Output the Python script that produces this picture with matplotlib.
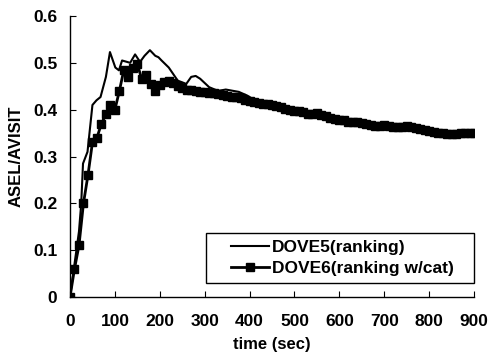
import matplotlib
matplotlib.use("Agg")
import matplotlib.pyplot as plt
import matplotlib.patches as patches
from matplotlib.ticker import FuncFormatter

plt.rcParams["font.family"] = ["Liberation Sans", "DejaVu Sans"]
plt.rcParams["font.weight"] = "bold"

# ── Data ─────────────────────────────────────────────────────────────────────
dove5_t = [0, 10, 20, 25, 29, 35, 39, 50, 59, 68, 80, 89, 101, 109, 116, 127,
           134, 145, 156, 166, 178, 190, 197, 204, 220, 240, 259, 270, 280,
           290, 310, 330, 347, 376, 395, 420, 450, 500, 550, 600, 650, 700,
           750, 800, 850, 900]
dove5_y = [0.0, 0.07, 0.14, 0.20, 0.285, 0.30, 0.31, 0.41, 0.42, 0.427, 0.47,
           0.523, 0.49, 0.484, 0.505, 0.502, 0.50, 0.518, 0.502, 0.515, 0.527,
           0.515, 0.512, 0.505, 0.49, 0.462, 0.455, 0.47, 0.472, 0.466, 0.448,
           0.44, 0.443, 0.438, 0.43, 0.415, 0.413, 0.40, 0.392, 0.38, 0.372,
           0.367, 0.365, 0.355, 0.348, 0.35]

dove6_t = list(range(0, 910, 10))
dove6_y = [0.0, 0.06, 0.11, 0.20, 0.26, 0.33, 0.34, 0.37, 0.39, 0.41,
           0.40, 0.44, 0.485, 0.47, 0.49, 0.497, 0.465, 0.473, 0.455, 0.44,
           0.452, 0.459, 0.462, 0.457, 0.45, 0.447, 0.443, 0.441, 0.44, 0.438,
           0.437, 0.436, 0.435, 0.434, 0.432, 0.43, 0.428, 0.426, 0.424, 0.421,
           0.418, 0.416, 0.414, 0.412, 0.413, 0.411, 0.408, 0.405, 0.402, 0.40,
           0.398, 0.397, 0.394, 0.391, 0.39, 0.392, 0.389, 0.386, 0.383, 0.381,
           0.379, 0.377, 0.374, 0.373, 0.373, 0.371, 0.37, 0.368, 0.366, 0.365,
           0.367, 0.366, 0.364, 0.362, 0.363, 0.365, 0.363, 0.36, 0.358, 0.356,
           0.354, 0.352, 0.351, 0.35, 0.349, 0.348, 0.349, 0.35, 0.35, 0.351,
           0.351]

x_ticks = list(range(0, 1000, 100))
y_ticks = [0, 0.1, 0.2, 0.3, 0.4, 0.5, 0.6]

# ── Figure ───────────────────────────────────────────────────────────────────
W, H = 489, 359
fig = plt.figure(figsize=(W / 100, H / 100), dpi=100)
ax = fig.add_axes([70 / W, 1 - 297 / H, 404 / W, 281 / H])

ax.plot(dove5_t, dove5_y, color="black", lw=1.5, label="DOVE5(ranking)")
ax.plot(dove6_t, dove6_y, color="black", lw=2.0, marker="s", ms=5.5,
        label="DOVE6(ranking w/cat)")

ax.set_xlim(0, 900)
ax.set_ylim(0, 0.6)
ax.set_xticks(x_ticks)
ax.set_yticks(y_ticks)
ax.yaxis.set_major_formatter(FuncFormatter(lambda v, p: "0" if v == 0 else f"{v:.1f}"))
ax.tick_params(direction="in", length=4, width=0.8, labelsize=12.5)
ax.tick_params(axis="y", pad=9)
ax.tick_params(axis="x", pad=12)
for s in ("top", "right"):
    ax.spines[s].set_visible(False)
for s in ("left", "bottom"):
    ax.spines[s].set_linewidth(1.0)

ax.set_xlabel("time (sec)", fontsize=12, fontweight="bold", labelpad=6)
ax.set_ylabel("ASEL/AVISIT", fontsize=12, fontweight="bold", labelpad=7)

# legend frame drawn by hand (wide left margin as in the original)
fig.add_artist(patches.Rectangle((206 / W, 1 - 283 / H), 268 / W, 50 / H,
                                 transform=fig.transFigure, fill=False,
                                 edgecolor="black", lw=1.0))
leg = fig.legend(loc="center left", bbox_to_anchor=(231 / W, 1 - 258 / H),
                 fontsize=12.5, frameon=False, handlelength=2.2,
                 handletextpad=0.15, borderpad=0, borderaxespad=0,
                 labelspacing=0.3)

fig.savefig("out.png", dpi=100)
